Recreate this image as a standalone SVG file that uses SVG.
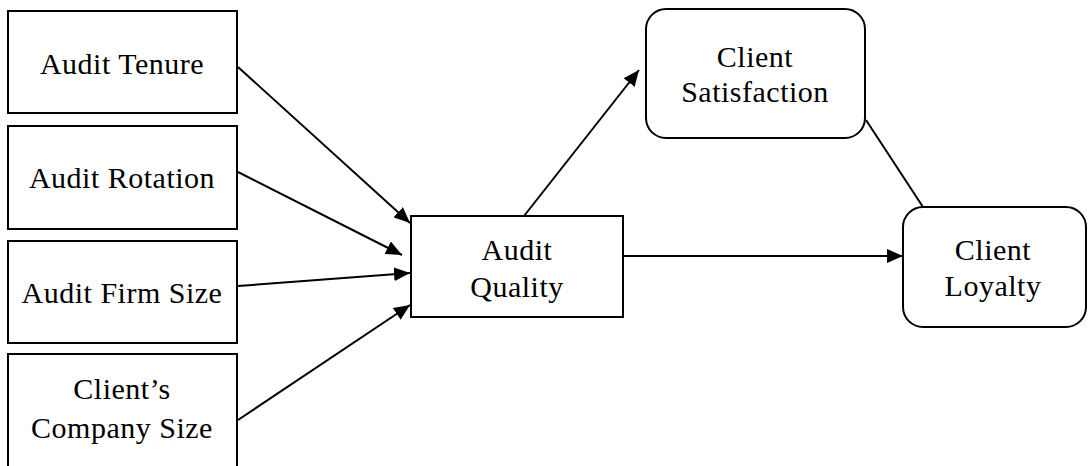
<svg xmlns="http://www.w3.org/2000/svg" width="1088" height="466" viewBox="0 0 1088 466">
<defs>
<style>
.box{fill:#fff;stroke:#000;stroke-width:2}
.t{font-family:"Liberation Serif","Times New Roman",serif;font-size:30px;letter-spacing:0.5px;fill:#000;text-anchor:middle}
.c{stroke:#000;stroke-width:2;fill:none}
</style>
<marker id="arr" viewBox="0 0 16 14" refX="16" refY="7" markerWidth="16" markerHeight="14" orient="auto" markerUnits="userSpaceOnUse">
<path d="M0,0 L16,7 L0,14 z" fill="#000"/>
</marker>
</defs>
<rect width="1088" height="466" fill="#fff"/>
<g id="connectors">
<line class="c" x1="238" y1="67" x2="410" y2="223" marker-end="url(#arr)"/>
<line class="c" x1="238" y1="172" x2="402" y2="255" marker-end="url(#arr)"/>
<line class="c" x1="238" y1="286" x2="410" y2="273" marker-end="url(#arr)"/>
<line class="c" x1="238" y1="420" x2="410" y2="305" marker-end="url(#arr)"/>
<line class="c" x1="524" y1="216" x2="639" y2="70" marker-end="url(#arr)"/>
<line class="c" x1="623" y1="256" x2="903" y2="256" marker-end="url(#arr)"/>
<line class="c" x1="866" y1="120" x2="923" y2="207"/>
</g>
<g id="audit-tenure">
<rect class="box" x="8" y="11" width="229" height="102"/>
<text class="t" x="122" y="74">Audit Tenure</text>
</g>
<g id="audit-rotation">
<rect class="box" x="8" y="126" width="229" height="103"/>
<text class="t" x="122" y="188">Audit Rotation</text>
</g>
<g id="audit-firm-size">
<rect class="box" x="8" y="241" width="229" height="102"/>
<text class="t" x="122" y="303">Audit Firm Size</text>
</g>
<g id="clients-company-size">
<rect class="box" x="8" y="354" width="229" height="130"/>
<text class="t" x="122" y="399">Client’s</text>
<text class="t" x="122" y="438">Company Size</text>
</g>
<g id="audit-quality">
<rect class="box" x="411" y="216" width="212" height="101"/>
<text class="t" x="517" y="260">Audit</text>
<text class="t" x="517" y="297">Quality</text>
</g>
<g id="client-satisfaction">
<rect class="box" x="646" y="9" width="219" height="129" rx="20" ry="20"/>
<text class="t" x="755" y="67">Client</text>
<text class="t" x="755" y="102">Satisfaction</text>
</g>
<g id="client-loyalty">
<rect class="box" x="903" y="207" width="183" height="120" rx="20" ry="20"/>
<text class="t" x="993" y="260">Client</text>
<text class="t" x="993" y="296">Loyalty</text>
</g>
</svg>
